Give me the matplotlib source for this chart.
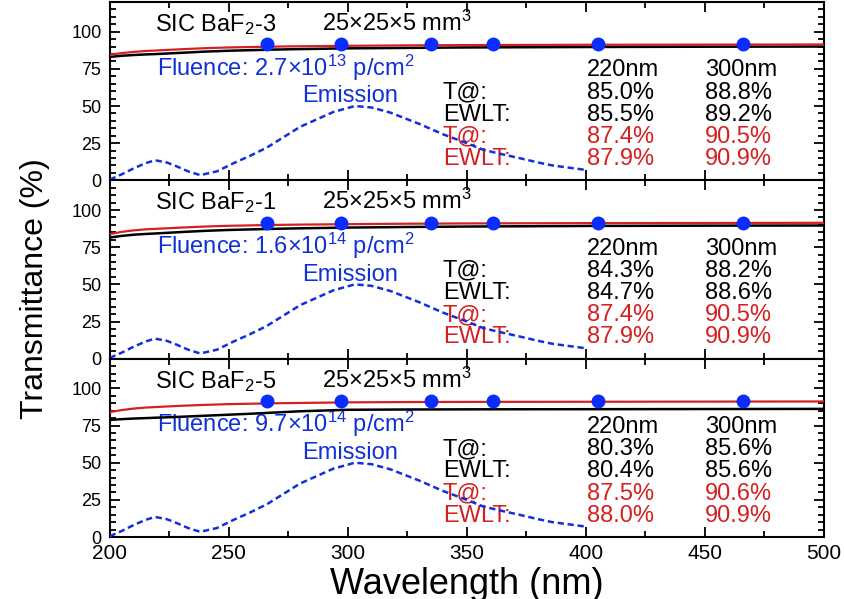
import matplotlib

matplotlib.use("Agg")
import matplotlib.pyplot as plt
from matplotlib.ticker import MultipleLocator

plt.rcParams["font.family"] = ["Liberation Sans", "DejaVu Sans"]
plt.rcParams["mathtext.fontset"] = "custom"
plt.rcParams["mathtext.rm"] = "Liberation Sans"
plt.rcParams["mathtext.it"] = "Liberation Sans:italic"

# transmittance curves, sampled wavelengths (nm)
wl = [200, 205, 210, 215, 220, 230, 240, 250, 260, 270, 280, 300, 325, 350, 400, 450, 500]

before = [
    [83.0, 83.8, 84.3, 84.7, 85.0, 85.8, 86.6, 87.2, 87.6, 88.0, 88.3, 88.8, 89.1, 89.4, 89.7, 89.9, 90.0],
    [81.5, 82.6, 83.4, 83.9, 84.3, 85.2, 86.0, 86.6, 87.0, 87.4, 87.7, 88.2, 88.6, 88.9, 89.3, 89.5, 89.6],
    [78.8, 79.3, 79.7, 80.0, 80.3, 80.9, 81.6, 82.3, 83.0, 83.8, 84.6, 85.6, 85.8, 85.9, 86.0, 86.1, 86.2],
]
after = [
    [84.5, 85.6, 86.4, 87.0, 87.4, 88.2, 88.9, 89.4, 89.7, 90.0, 90.2, 90.5, 90.8, 91.0, 91.2, 91.3, 91.4],
    [83.8, 85.3, 86.3, 87.0, 87.4, 88.2, 88.9, 89.4, 89.7, 90.0, 90.2, 90.5, 90.8, 91.0, 91.2, 91.3, 91.4],
    [84.0, 85.4, 86.4, 87.1, 87.5, 88.3, 88.9, 89.4, 89.7, 90.0, 90.2, 90.6, 90.8, 90.9, 91.0, 91.1, 91.2],
]

# spot measurements
dot_wl = [266, 297, 335, 361, 405, 466]
dot_t = [
    [92.0, 92.0, 92.0, 92.0, 92.0, 92.0],
    [91.6, 91.6, 91.6, 91.6, 91.6, 91.6],
    [91.5, 91.5, 91.5, 91.5, 91.5, 91.5],
]

# BaF2 emission spectrum (arb. units)
em_wl = [200, 205, 210, 215, 219, 224, 228, 233, 238, 245, 252, 259, 266, 273, 280,
         287, 294, 303, 310, 318, 330, 340, 350, 357, 365, 372, 380, 386, 393, 400]
em = [0.5, 4, 8, 11.5, 13.5, 12, 9.5, 6, 3.5, 6, 11.5, 16.5, 22, 29, 36,
      41, 46, 50, 49, 45.5, 38, 31, 25, 20.5, 17.5, 15, 12, 10, 8.5, 7]

samples = ["SIC BaF$_2$-3", "SIC BaF$_2$-1", "SIC BaF$_2$-5"]
fluences = ["2.7×10$^{13}$ p/cm$^2$", "1.6×10$^{14}$ p/cm$^2$", "9.7×10$^{14}$ p/cm$^2$"]
t_before = [("85.0%", "88.8%"), ("84.3%", "88.2%"), ("80.3%", "85.6%")]
ewlt_before = [("85.5%", "89.2%"), ("84.7%", "88.6%"), ("80.4%", "85.6%")]
t_after = [("87.4%", "90.5%"), ("87.4%", "90.5%"), ("87.5%", "90.6%")]
ewlt_after = [("87.9%", "90.9%"), ("87.9%", "90.9%"), ("88.0%", "90.9%")]

BLUE = "#1030d8"
RED = "#d42020"

fig, axes = plt.subplots(3, 1, figsize=(8.44, 5.99), dpi=100, sharex=True)
fig.subplots_adjust(left=0.130, right=0.976, bottom=0.1035, top=0.9967, hspace=0)

fs = 17
for i, ax in enumerate(axes):
    ax.plot(em_wl, em, color=BLUE, lw=1.8, ls=(0, (2.5, 1.5)), zorder=3)
    ax.plot(wl, before[i], color="black", lw=1.8, zorder=3)
    ax.plot(wl, after[i], color=RED, lw=1.6, zorder=4)
    ax.plot(dot_wl, dot_t[i], "o", color="#0a2cff", ms=9, zorder=5)

    txt = dict(fontsize=fs, va="baseline", zorder=1)
    ax.text(219, 100.5, samples[i], **txt)
    ax.text(289, 100.5, "25×25×5 mm$^3$", **txt)
    ax.text(220, 70.5, "Fluence: " + fluences[i], color=BLUE, **txt)
    ax.text(281, 52.4, "Emission", color=BLUE, **txt)

    rows = [
        ("", ("220nm", "300nm"), "black"),
        ("T@:", t_before[i], "black"),
        ("EWLT:", ewlt_before[i], "black"),
        ("T@:", t_after[i], RED),
        ("EWLT:", ewlt_after[i], RED),
    ]
    for (label, vals, color), y in zip(rows, [70.0, 55.0, 40.1, 25.2, 10.3]):
        ax.text(340, y, label, color=color, **txt)
        ax.text(400.4, y, vals[0], color=color, **txt)
        ax.text(450, y, vals[1], color=color, **txt)

    ax.set_xlim(200, 500)
    ax.set_ylim(0, 120)
    ax.set_yticks([0, 25, 50, 75, 100])
    ax.yaxis.set_minor_locator(MultipleLocator(5))
    ax.xaxis.set_major_locator(MultipleLocator(50))
    ax.xaxis.set_minor_locator(MultipleLocator(25))
    ax.tick_params(which="both", direction="in", top=True, right=True, width=1.3)
    ax.tick_params(which="major", length=7)
    ax.tick_params(which="minor", length=4)
    ax.tick_params(axis="y", labelsize=13, pad=6)
    ax.tick_params(axis="x", labelsize=15, pad=5)
    for sp in ax.spines.values():
        sp.set_linewidth(1.5)

fig.text(0.5 * (0.130 + 0.976), 1 - 594 / 599, "Wavelength (nm)", fontsize=26,
         ha="center", va="baseline")
fig.text(0.041, 1 - 289 / 599, "Transmittance (%)", rotation=90, fontsize=23,
         ha="center", va="center")

fig.savefig("out.png", dpi=100)
plt.close(fig)
